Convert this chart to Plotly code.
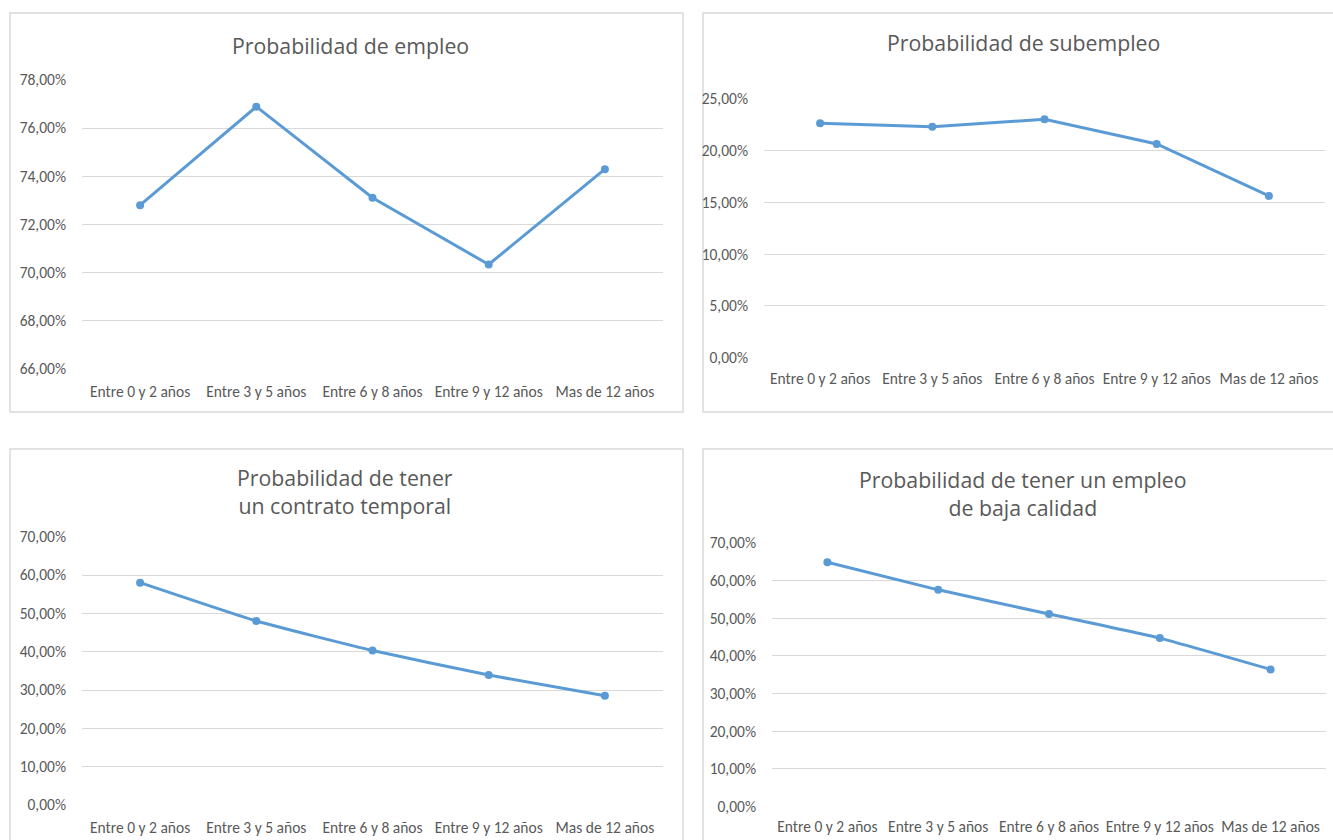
import plotly.graph_objects as go

categories = ["Entre 0 y 2 años", "Entre 3 y 5 años", "Entre 6 y 8 años", "Entre 9 y 12 años", "Mas de 12 años"]
empleo = [0.7279, 0.7689, 0.7310, 0.7032, 0.7429]
subempleo = [0.2263, 0.2230, 0.2301, 0.2063, 0.1561]
temporal = [0.580, 0.480, 0.403, 0.339, 0.285]
baja_calidad = [0.648, 0.575, 0.511, 0.447, 0.364]

titles = ["Probabilidad de empleo", "Probabilidad de subempleo",
          "Probabilidad de tener<br>un contrato temporal",
          "Probabilidad de tener un empleo<br>de baja calidad"]

W, H = 1333, 840
def px(x): return x / W
def py(y): return 1 - y / H

TICKFONT = "Carlito, Lato, sans-serif"
TITLEFONT = "'Open Sans', 'Noto Sans', sans-serif"
GRAY = "#595959"
BLUE = "#5b9bd5"

fig = go.Figure()

panels = [
    dict(data=empleo, xd=(82, 663), yd=(368.3, 80), rng=(0.66, 0.78), dt=0.02, border=(10, 13, 683, 412), title_xy=(350, 45), shape="linear", so=12),
    dict(data=subempleo, xd=(764, 1325), yd=(357.7, 98.7), rng=(0.0, 0.25), dt=0.05, border=(703, 13, 1340, 412), title_xy=(1023, 42), shape="linear", so=10),
    dict(data=temporal, xd=(82, 663), yd=(805, 536.7), rng=(0.0, 0.70), dt=0.10, border=(10, 449, 683, 850), title_xy=(345, 491), shape="spline", so=11),
    dict(data=baja_calidad, xd=(772, 1326), yd=(806.7, 542.7), rng=(0.0, 0.70), dt=0.10, border=(703, 449, 1340, 850), title_xy=(1023, 493), shape="spline", so=9),
]

for i, p in enumerate(panels):
    n = "" if i == 0 else str(i + 1)
    fig.add_trace(go.Scatter(
        x=categories, y=p["data"], mode="lines+markers",
        line=dict(color=BLUE, width=3, shape=p["shape"], smoothing=0.4),
        marker=dict(color=BLUE, size=8),
        xaxis="x" + n, yaxis="y" + n, showlegend=False, cliponaxis=False,
    ))
    fig.layout["xaxis" + n] = dict(
        domain=[px(p["xd"][0]), px(p["xd"][1])], anchor="y" + n,
        type="category", range=[-0.5, 4.5], showgrid=False, zeroline=False,
        showline=False, ticks="", ticklabelstandoff=p["so"], automargin=False,
        tickfont=dict(family=TICKFONT, size=15.5, color=GRAY), fixedrange=True,
    )
    fig.layout["yaxis" + n] = dict(
        domain=[py(p["yd"][0]), py(p["yd"][1])], anchor="x" + n,
        range=list(p["rng"]), dtick=p["dt"], tick0=0, tickformat=".2%",
        showgrid=True, gridcolor="#d9d9d9", gridwidth=1.3, zeroline=False,
        showline=False, ticks="", ticklabelstandoff=15, automargin=False,
        tickfont=dict(family=TICKFONT, size=15.5, color=GRAY), fixedrange=True,
    )
    x0, y0, x1, y1 = p["border"]
    fig.add_shape(type="rect", xref="paper", yref="paper",
                  x0=px(x0), x1=px(x1), y0=py(y1), y1=py(y0),
                  line=dict(color="#d9d9d9", width=1.5), layer="below")
    fig.add_annotation(text=titles[i], xref="paper", yref="paper",
                       x=px(p["title_xy"][0]), y=py(p["title_xy"][1]),
                       xanchor="center", yanchor="middle", showarrow=False,
                       font=dict(family=TITLEFONT, size=21.3, color=GRAY))

fig.update_layout(
    width=W, height=H, margin=dict(l=0, r=0, t=0, b=0, pad=0, autoexpand=False),
    paper_bgcolor="white", plot_bgcolor="white", separators=",.",
    showlegend=False,
)

fig.write_html("out.html", config={"displayModeBar": False},
               post_script="document.body.style.margin='0';document.body.style.overflow='hidden';")
